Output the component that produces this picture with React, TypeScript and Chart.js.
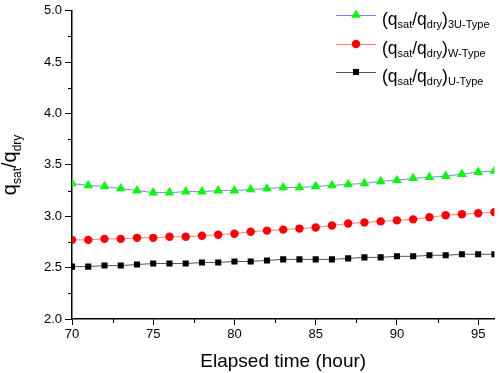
import React, { useEffect, useRef } from "react";
import { Chart, registerables } from "chart.js";

Chart.register(...registerables);

const hours = [70, 71, 72, 73, 74, 75, 76, 77, 78, 79, 80, 81, 82, 83, 84, 85, 86, 87, 88, 89, 90, 91, 92, 93, 94, 95, 96];
const type3U = [3.32, 3.30, 3.29, 3.27, 3.25, 3.23, 3.23, 3.24, 3.24, 3.25, 3.25, 3.26, 3.27, 3.28, 3.28, 3.29, 3.30, 3.31, 3.32, 3.34, 3.35, 3.37, 3.38, 3.39, 3.41, 3.43, 3.44];
const typeW = [2.77, 2.77, 2.78, 2.78, 2.79, 2.79, 2.80, 2.80, 2.81, 2.82, 2.83, 2.85, 2.86, 2.87, 2.88, 2.89, 2.91, 2.93, 2.94, 2.95, 2.96, 2.97, 2.99, 3.01, 3.02, 3.03, 3.04];
const typeU = [2.51, 2.51, 2.52, 2.52, 2.53, 2.54, 2.54, 2.54, 2.55, 2.55, 2.56, 2.56, 2.57, 2.58, 2.58, 2.58, 2.58, 2.59, 2.60, 2.60, 2.61, 2.61, 2.62, 2.62, 2.63, 2.63, 2.63];
const xTicks = [70, 75, 80, 85, 90, 95];
const xMinorTicks = [72.5, 77.5, 82.5, 87.5, 92.5];
const yTicks = [2.0, 2.5, 3.0, 3.5, 4.0, 4.5, 5.0];
const yMinorTicks = [2.25, 2.75, 3.25, 3.75, 4.25, 4.75];
const legendSubs = ["3U-Type", "W-Type", "U-Type"];

const FONT = "Arial, 'Liberation Sans', sans-serif";

type SeriesStyle = { line: string; fill: string; shape: string; r: number };
const styles: SeriesStyle[] = [
  { line: "#7f7fff", fill: "#00ff00", shape: "triangle", r: 5.6 },
  { line: "#ff7f7f", fill: "#ff0000", shape: "circle", r: 4.2 },
  { line: "#555555", fill: "#000000", shape: "rect", r: 4.3 },
];

function drawMarker(ctx: CanvasRenderingContext2D, shape: string, x: number, y: number, r: number, color: string) {
  ctx.fillStyle = color;
  ctx.beginPath();
  if (shape === "triangle") {
    ctx.moveTo(x, y - r);
    ctx.lineTo(x + r * Math.sin(Math.PI / 3), y + r * 0.5);
    ctx.lineTo(x - r * Math.sin(Math.PI / 3), y + r * 0.5);
    ctx.closePath();
  } else if (shape === "circle") {
    ctx.arc(x, y, r, 0, Math.PI * 2);
  } else {
    const s = r * Math.SQRT1_2;
    ctx.rect(x - s, y - s, 2 * s, 2 * s);
  }
  ctx.fill();
}

function drawRatio(ctx: CanvasRenderingContext2D, x: number, y: number, main: number, sub: number, subDy: number, paren: boolean, tail: string | null) {
  const mainFont = `${main}px ${FONT}`;
  const subFont = `${sub}px ${FONT}`;
  const parts: [string, boolean][] = [];
  if (paren) parts.push(["(", false]);
  parts.push(["q", false], ["sat", true], ["/q", false], ["dry", true]);
  if (paren) parts.push([")", false]);
  if (tail) parts.push([tail, true]);
  let cx = x;
  for (const [t, isSub] of parts) {
    ctx.font = isSub ? subFont : mainFont;
    ctx.fillText(t, cx, isSub ? y + subDy : y);
    cx += ctx.measureText(t).width;
  }
  return cx - x;
}

const customPlugin = {
  id: "custom",
  afterDraw(chart: any) {
    const ctx: CanvasRenderingContext2D = chart.ctx;
    const xs = chart.scales.x;
    const ys = chart.scales.y;
    const area = chart.chartArea;
    ctx.save();
    ctx.strokeStyle = "#000";
    ctx.lineWidth = 1;
    ctx.beginPath();
    for (const v of xMinorTicks) {
      const px = Math.round(xs.getPixelForValue(v)) + 0.5;
      ctx.moveTo(px, area.bottom);
      ctx.lineTo(px, area.bottom + 4);
    }
    for (const v of yMinorTicks) {
      const py = Math.round(ys.getPixelForValue(v)) + 0.5;
      ctx.moveTo(area.left, py);
      ctx.lineTo(area.left - 4, py);
    }
    ctx.stroke();

    const rows = [15, 44, 72];
    ctx.textBaseline = "alphabetic";
    ctx.textAlign = "left";
    rows.forEach((ry, i) => {
      const st = styles[i];
      ctx.strokeStyle = st.line;
      ctx.lineWidth = 1;
      ctx.beginPath();
      ctx.moveTo(336, ry + 0.5);
      ctx.lineTo(376, ry + 0.5);
      ctx.stroke();
      drawMarker(ctx, st.shape, 356, ry, st.r, st.fill);
      ctx.fillStyle = "#000";
      drawRatio(ctx, 382, ry + 10, 17.5, 11, 3, true, legendSubs[i]);
    });

    ctx.save();
    ctx.fillStyle = "#000";
    let w = 0;
    ctx.font = `20px ${FONT}`;
    w += ctx.measureText("q").width + ctx.measureText("/q").width;
    ctx.font = `12px ${FONT}`;
    w += ctx.measureText("sat").width + ctx.measureText("dry").width;
    const cy = (area.top + area.bottom) / 2;
    ctx.translate(16, cy);
    ctx.rotate(-Math.PI / 2);
    drawRatio(ctx, -w / 2, 0, 20, 12, 5, false, null);
    ctx.restore();

    ctx.fillStyle = "#000";
    ctx.font = `19px ${FONT}`;
    ctx.textAlign = "center";
    ctx.textBaseline = "middle";
    ctx.fillText("Elapsed time (hour)", (area.left + area.right) / 2, 362);
    ctx.restore();
  },
};

export default function App() {
  const ref = useRef<HTMLCanvasElement>(null);
  useEffect(() => {
    document.body.style.margin = "0";
    const canvas = ref.current!;
    const datasets = [type3U, typeW, typeU].map((vals, i) => ({
      label: legendSubs[i],
      data: hours.map((h, j) => ({ x: h, y: vals[j] })),
      borderColor: styles[i].line,
      borderWidth: 1,
      backgroundColor: styles[i].fill,
      pointBackgroundColor: styles[i].fill,
      pointBorderWidth: 0,
      pointStyle: styles[i].shape,
      pointRadius: styles[i].r,
      tension: 0,
    }));
    const chart = new Chart(canvas, {
      type: "line",
      data: { datasets },
      plugins: [customPlugin],
      options: {
        animation: false,
        responsive: false,
        maintainAspectRatio: false,
        layout: { padding: { left: 0, top: 7, right: 4, bottom: 0 } },
        plugins: { legend: { display: false }, tooltip: { enabled: false }, title: { display: false } },
        scales: {
          x: {
            type: "linear",
            min: 70,
            max: 96,
            afterBuildTicks: (s: any) => { s.ticks = xTicks.map((v) => ({ value: v })); },
            afterFit: (s: any) => { s.height = 54; },
            grid: { display: true, drawOnChartArea: false, drawTicks: true, tickLength: 6, color: "#000", lineWidth: 1 },
            border: { display: true, color: "#000", width: 1.5 },
            ticks: { color: "#000", font: { size: 13, family: FONT }, padding: 2, maxRotation: 0, autoSkip: false },
          },
          y: {
            type: "linear",
            min: 2,
            max: 5,
            afterBuildTicks: (s: any) => { s.ticks = yTicks.map((v) => ({ value: v })); },
            afterFit: (s: any) => { s.width = 72; },
            grid: { display: true, drawOnChartArea: false, drawTicks: true, tickLength: 7, color: "#000", lineWidth: 1 },
            border: { display: true, color: "#000", width: 1.5 },
            ticks: { color: "#000", font: { size: 13, family: FONT }, padding: 3, autoSkip: false, callback: (v: any) => Number(v).toFixed(1) },
          },
        },
      },
    });
    return () => chart.destroy();
  }, []);
  return (
    <div style={{ width: 500, height: 373, background: "#fff" }}>
      <canvas ref={ref} width={500} height={373} style={{ width: 500, height: 373, display: "block" }} />
    </div>
  );
}
